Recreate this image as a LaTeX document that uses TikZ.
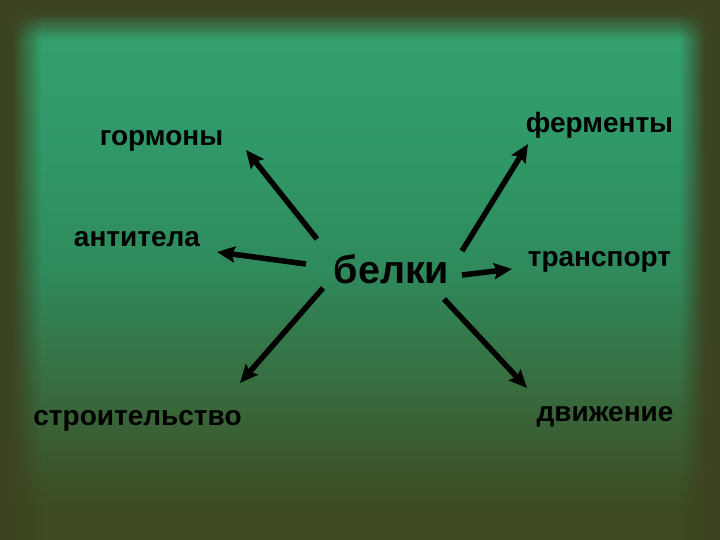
\documentclass[tikz,border=0pt]{standalone}
\usepackage{fontspec}
\setmainfont{Liberation Sans}
\usetikzlibrary{arrows.meta}
\definecolor{frameol}{HTML}{3C4320}
\definecolor{cA}{HTML}{34A06E}
\definecolor{cB}{HTML}{309868}
\definecolor{cC}{HTML}{2F8A5C}
\definecolor{cD}{HTML}{376E40}
\definecolor{cE}{HTML}{3B5A30}
\definecolor{cF}{HTML}{3D4A22}
\pgfdeclareverticalshading{bgshade}{100bp}{color(0bp)=(cF); color(27.8bp)=(cF); color(33.3bp)=(cE); color(39.8bp)=(cD); color(50bp)=(cC); color(61.1bp)=(cB); color(72.2bp)=(cA); color(100bp)=(cA)}
\tikzset{
  lbl/.style={anchor=base, font=\bfseries\fontsize{28}{30}\selectfont, text=black, inner sep=0pt},
  hub/.style={anchor=base, font=\bfseries\fontsize{39.5}{42}\selectfont, text=black, inner sep=0pt},
  arr/.style={line width=5.5pt, black, -{Stealth[length=18pt,width=16pt,inset=3pt]}}
}
\begin{document}
\begin{tikzpicture}[x=1pt,y=-1pt]
\useasboundingbox (0,0) rectangle (720,540);
% background
\fill[shading=bgshade] (0,0) rectangle (720,540);
\foreach \j in {0,...,29}{
  \pgfmathsetmacro\op{1-(\j+0.5)/30}
  \fill[frameol, fill opacity=\op] (12+\j,0) rectangle (13+\j,540);
}
\foreach \j in {0,...,26}{
  \pgfmathsetmacro\op{1-(\j+0.5)/27}
  \fill[frameol, fill opacity=\op] (0,13+\j) rectangle (720,14+\j);
}
\foreach \j in {0,...,25}{
  \pgfmathsetmacro\op{1-(\j+0.5)/26}
  \fill[frameol, fill opacity=\op] (705-\j,0) rectangle (706-\j,540);
}
\fill[frameol] (0,0) rectangle (720,13);
\fill[frameol] (0,0) rectangle (12,540);
\fill[frameol] (706,0) rectangle (720,540);
% nodes
\node[hub] (belki) at (391.5,283) {белки};
\node[lbl] (gorm) at (161.5,146) {гормоны};
\node[lbl] (ferm) at (599.5,133) {ферменты};
\node[lbl] (anti) at (137,246.7) {антитела};
\node[lbl] (trans) at (599.5,266) {транспорт};
\node[lbl] (stroi) at (137.5,425) {строительство};
\node[lbl] (dvizh) at (605,421) {движение};
% arrow ends
\coordinate (t1) at (317,239); \coordinate (h1) at (246,150);
\coordinate (t2) at (306,264); \coordinate (h2) at (217,252);
\coordinate (t3) at (323,288); \coordinate (h3) at (240,383);
\coordinate (t4) at (462,251); \coordinate (h4) at (528,144);
\coordinate (t5) at (462,275); \coordinate (h5) at (512,269);
\coordinate (t6) at (444,299); \coordinate (h6) at (527,388);
\draw[arr] (t1) -- (h1);
\draw[arr] (t2) -- (h2);
\draw[arr] (t3) -- (h3);
\draw[arr] (t4) -- (h4);
\draw[arr] (t5) -- (h5);
\draw[arr] (t6) -- (h6);
\end{tikzpicture}
\end{document}
